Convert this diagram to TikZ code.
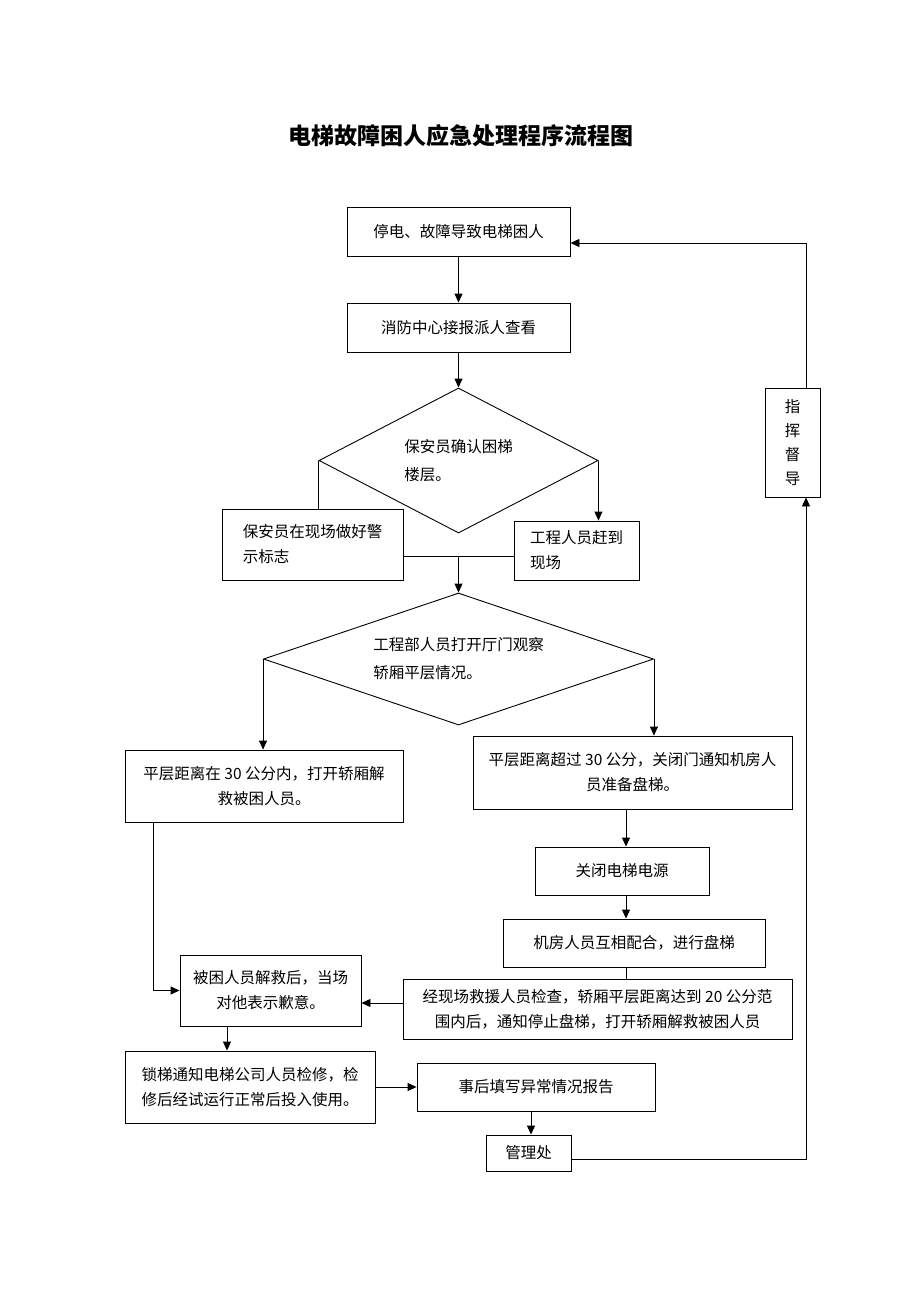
\documentclass[tikz,border=0pt]{standalone}
\usepackage{fontspec}
\setmainfont{Noto Sans CJK SC}
\usetikzlibrary{arrows.meta,shapes.geometric}
\begin{document}
\begin{tikzpicture}[x=1pt,y=-1pt,
  box/.style={draw,rectangle,inner sep=2pt,line width=0.9pt,font=\fontsize{15.5}{25}\selectfont,align=center},
  dia/.style={draw,diamond,inner sep=0pt,line width=0.9pt,font=\fontsize{15.5}{28}\selectfont,align=left},
  arr/.style={line width=0.9pt,-{Triangle[length=9pt,width=8pt]}},
  ln/.style={line width=0.9pt}]
\useasboundingbox[fill=white] (0,0) rectangle (920,1302);

\node[font=\fontsize{23}{23}\selectfont\bfseries] (title) at (461,136) {电梯故障困人应急处理程序流程图};

\node[box,minimum width=223pt,minimum height=49pt] (b1) at (458.5,231.5) {停电、故障导致电梯困人};
\node[box,minimum width=223pt,minimum height=49pt] (b2) at (458.5,327.5) {消防中心接报派人查看};
\node[dia,shape aspect=1.92,minimum width=279pt,minimum height=145pt] (d1) at (458.5,460.5) {保安员确认困梯\\楼层。};
\node[box,align=left,minimum width=181pt,minimum height=71pt] (b3) at (312.5,544.5) {保安员在现场做好警\\示标志};
\node[box,align=left,minimum width=125pt,minimum height=59pt] (b4) at (576.5,550.5) {工程人员赶到\\现场};
\node[dia,shape aspect=2.95,minimum width=390pt,minimum height=132pt] (d2) at (458.5,659) {工程部人员打开厅门观察\\轿厢平层情况。};
\node[box,minimum width=278pt,minimum height=72pt] (b5) at (264,786) {平层距离在 30 公分内，打开轿厢解\\救被困人员。};
\node[box,minimum width=319pt,minimum height=73pt] (b6) at (632.5,772.5) {平层距离超过 30 公分，关闭门通知机房人\\员准备盘梯。};
\node[box,minimum width=174pt,minimum height=48pt] (b7) at (622,871) {关闭电梯电源};
\node[box,minimum width=262pt,minimum height=48pt] (b8) at (634,943) {机房人员互相配合，进行盘梯};
\node[box,minimum width=389pt,minimum height=60pt] (b9) at (597.5,1009) {经现场救援人员检查，轿厢平层距离达到 20 公分范\\围内后，通知停止盘梯，打开轿厢解救被困人员};
\node[box,minimum width=181pt,minimum height=71pt] (b10) at (270.5,990.5) {被困人员解救后，当场\\对他表示歉意。};
\node[box,align=left,minimum width=250pt,minimum height=72pt] (b11) at (250,1087) {锁梯通知电梯公司人员检修，检\\修后经试运行正常后投入使用。};
\node[box,minimum width=238pt,minimum height=48pt] (b12) at (536,1087) {事后填写异常情况报告};
\node[box,minimum width=85pt,minimum height=36pt] (b13) at (528.5,1153) {管理处};
\node[box,font=\fontsize{15.5}{24}\selectfont,minimum width=55pt,minimum height=109pt] (b14) at (792.5,442.5) {指\\挥\\督\\导};

% helper coordinates
\coordinate (j1) at (458.5,556);
\coordinate (c626) at (626,0);
\coordinate (r1003) at (0,1003);
\coordinate (c153) at (153,991);
\coordinate (c227) at (227,0);
\coordinate (c531) at (531,0);
\coordinate (r1159) at (0,1159);
\coordinate (c806) at (806,0);
\coordinate (r243) at (0,243);

\draw[arr] (b1) -- (b2);
\draw[arr] (b2) -- (d1.north);
\draw[ln] (d1.west) -- (d1.west |- b3.north);
\draw[arr] (d1.east) -- (d1.east |- b4.north);
\draw[ln] (j1 -| b3.east) -- (j1 -| b4.west);
\draw[arr] (j1) -- (j1 |- d2.north);
\draw[arr] (d2.west) -- (d2.west |- b5.north);
\draw[arr] (d2.east) -- (d2.east |- b6.north);
\draw[arr] (c626 |- b6.south) -- (c626 |- b7.north);
\draw[arr] (c626 |- b7.south) -- (c626 |- b8.north);
\draw[ln] (c626 |- b8.south) -- (c626 |- b9.north);
\draw[arr] (r1003 -| b9.west) -- (r1003 -| b10.east);
\draw[arr] (c153 |- b5.south) |- (b10.west);
\draw[arr] (c227 |- b10.south) -- (c227 |- b11.north);
\draw[arr] (b11.east) -- (b12.west);
\draw[arr] (c531 |- b12.south) -- (c531 |- b13.north);
\draw[arr] (r1159 -| b13.east) -| (c806 |- b14.south);
\draw[arr] (c806 |- b14.north) |- (r243 -| b1.east);
\end{tikzpicture}
\end{document}
